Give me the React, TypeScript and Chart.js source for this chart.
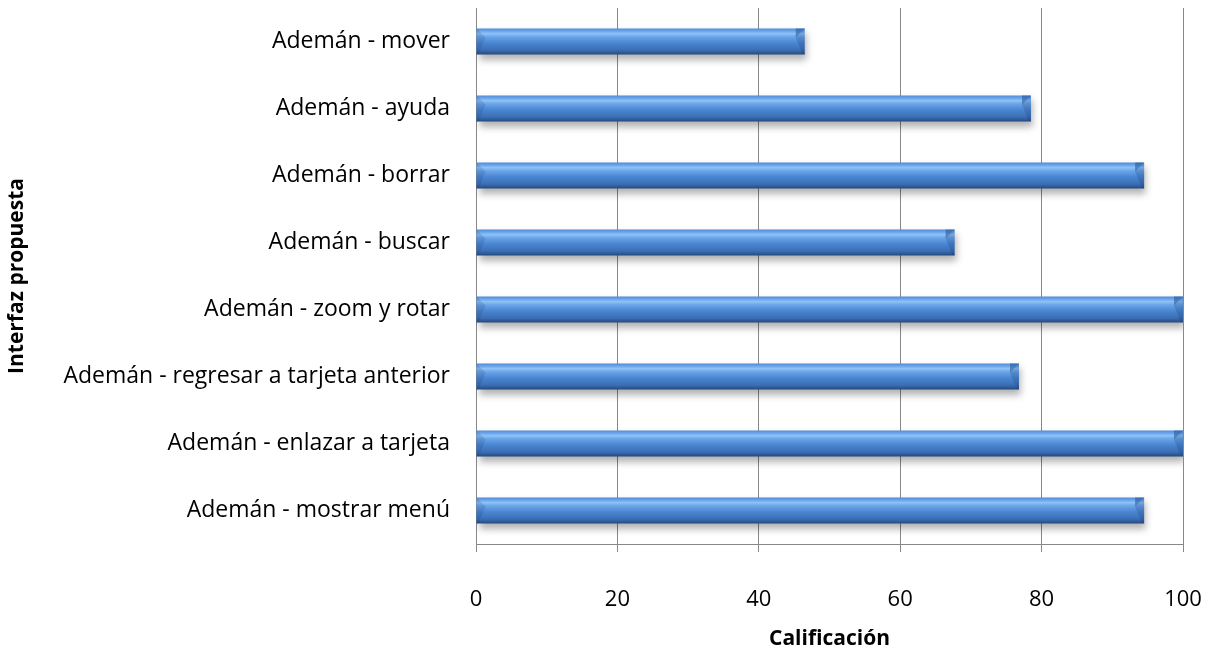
import React, { useEffect, useRef } from "react";
import { Chart, registerables } from "chart.js";

Chart.register(...registerables);

const categories: string[] = [
  "Ademán - mover",
  "Ademán - ayuda",
  "Ademán - borrar",
  "Ademán - buscar",
  "Ademán - zoom y rotar",
  "Ademán - regresar a tarjeta anterior",
  "Ademán - enlazar a tarjeta",
  "Ademán - mostrar menú",
];
const scores: number[] = [46.5, 78.5, 94.5, 67.7, 100, 76.8, 100, 94.5];
const xTicks: number[] = [0, 20, 40, 60, 80, 100];
const xTitle = "Calificación";
const yTitle = "Interfaz propuesta";

const FONT = "'Open Sans', 'Liberation Sans', Arial, sans-serif";
const BAR_PCT = 0.39;

const shadowPlugin = {
  id: "barShadow",
  beforeDatasetsDraw(chart: any) {
    const ctx = chart.ctx;
    ctx.save();
    ctx.shadowColor = "rgba(0,0,0,0.3)";
    ctx.shadowBlur = 7;
    ctx.shadowOffsetX = 2;
    ctx.shadowOffsetY = 5;
  },
  afterDatasetsDraw(chart: any) {
    const ctx = chart.ctx;
    ctx.restore();
    const meta = chart.getDatasetMeta(0);
    ctx.save();
    meta.data.forEach((el: any) => {
      const h = el.height;
      const top = el.y - h / 2;
      const bot = el.y + h / 2;
      const left = el.base;
      const right = el.x;
      const b = Math.min(9, h * 0.35);
      // right end face
      ctx.beginPath();
      ctx.moveTo(right - b, top + b);
      ctx.lineTo(right, top);
      ctx.lineTo(right, bot);
      ctx.lineTo(right - 2, bot);
      ctx.closePath();
      ctx.fillStyle = "rgba(20,50,100,0.2)";
      ctx.fill();
      ctx.beginPath();
      ctx.moveTo(right - b, top);
      ctx.lineTo(right, top);
      ctx.lineTo(right - b, top + b);
      ctx.closePath();
      ctx.fillStyle = "rgba(40,90,160,0.6)";
      ctx.fill();
      // left end face
      ctx.beginPath();
      ctx.moveTo(left, top);
      ctx.lineTo(left + b, top + b);
      ctx.lineTo(left + 2, bot);
      ctx.lineTo(left, bot);
      ctx.closePath();
      ctx.fillStyle = "rgba(20,50,100,0.15)";
      ctx.fill();
    });
    ctx.restore();
  },
};

export default function App() {
  const ref = useRef<HTMLCanvasElement | null>(null);

  useEffect(() => {
    document.body.style.margin = "0";
    const canvas = ref.current;
    if (!canvas) return;
    const chart = new Chart(canvas, {
      type: "bar",
      data: {
        labels: categories,
        datasets: [
          {
            data: scores,
            barPercentage: BAR_PCT,
            categoryPercentage: 1,
            borderWidth: 0,
            backgroundColor: (c: any) => {
              const chartObj = c.chart;
              const yScale = chartObj.scales?.y;
              if (!yScale || c.dataIndex === undefined) return "#4a84cf";
              const center = yScale.getPixelForValue(c.dataIndex);
              const thick = (yScale.height / categories.length) * BAR_PCT;
              const top = center - thick / 2;
              if (!isFinite(top) || !isFinite(thick) || thick <= 0) return "#4a84cf";
              const g = chartObj.ctx.createLinearGradient(0, top, 0, top + thick);
              g.addColorStop(0, "#4f8ad8");
              g.addColorStop(0.1, "#6aa4ea");
              g.addColorStop(0.2, "#8ec3f6");
              g.addColorStop(0.32, "#6ba5e9");
              g.addColorStop(0.55, "#4a86d2");
              g.addColorStop(0.82, "#3b6fb6");
              g.addColorStop(0.93, "#2d5a95");
              g.addColorStop(1, "#22457a");
              return g;
            },
          },
        ],
      },
      options: {
        indexAxis: "y",
        animation: false,
        responsive: false,
        maintainAspectRatio: false,
        layout: { padding: { top: 8, right: 25, left: 0, bottom: 0 } },
        plugins: {
          legend: { display: false },
          tooltip: { enabled: false },
        },
        scales: {
          x: {
            type: "linear",
            min: 0,
            max: 100,
            afterBuildTicks: (s: any) => {
              s.ticks = xTicks.map((v) => ({ value: v }));
            },
            afterFit: (s: any) => {
              s.height = 108;
              s.paddingLeft = 0;
              s.paddingRight = 0;
              s.paddingTop = 0;
              s.paddingBottom = 0;
            },
            grid: {
              color: "#888888",
              lineWidth: 1,
              drawTicks: true,
              tickLength: 8,
            },
            border: { display: true, color: "#888888", width: 1 },
            ticks: {
              color: "#000000",
              font: { family: FONT, size: 22 },
              padding: 35,
            },
            title: {
              display: true,
              text: xTitle,
              color: "#000000",
              font: { family: FONT, size: 21, weight: "bold" },
              padding: { top: 0, bottom: 0 },
            },
          },
          y: {
            type: "category",
            afterFit: (s: any) => {
              s.width = 476;
              s.paddingLeft = 0;
              s.paddingRight = 0;
              s.paddingTop = 0;
              s.paddingBottom = 0;
            },
            grid: { display: false, drawTicks: false },
            border: { display: true, color: "#888888", width: 1 },
            ticks: {
              color: "#000000",
              font: { family: FONT, size: 23 },
              padding: 26,
            },
            title: {
              display: true,
              text: yTitle,
              color: "#000000",
              font: { family: FONT, size: 21, weight: "bold" },
              padding: { top: 4, bottom: 0 },
            },
          },
        },
      },
      plugins: [shadowPlugin],
    } as any);
    return () => chart.destroy();
  }, []);

  return (
    <div style={{ width: 1208, height: 652 }}>
      <canvas ref={ref} width={1208} height={652} style={{ display: "block" }} />
    </div>
  );
}
